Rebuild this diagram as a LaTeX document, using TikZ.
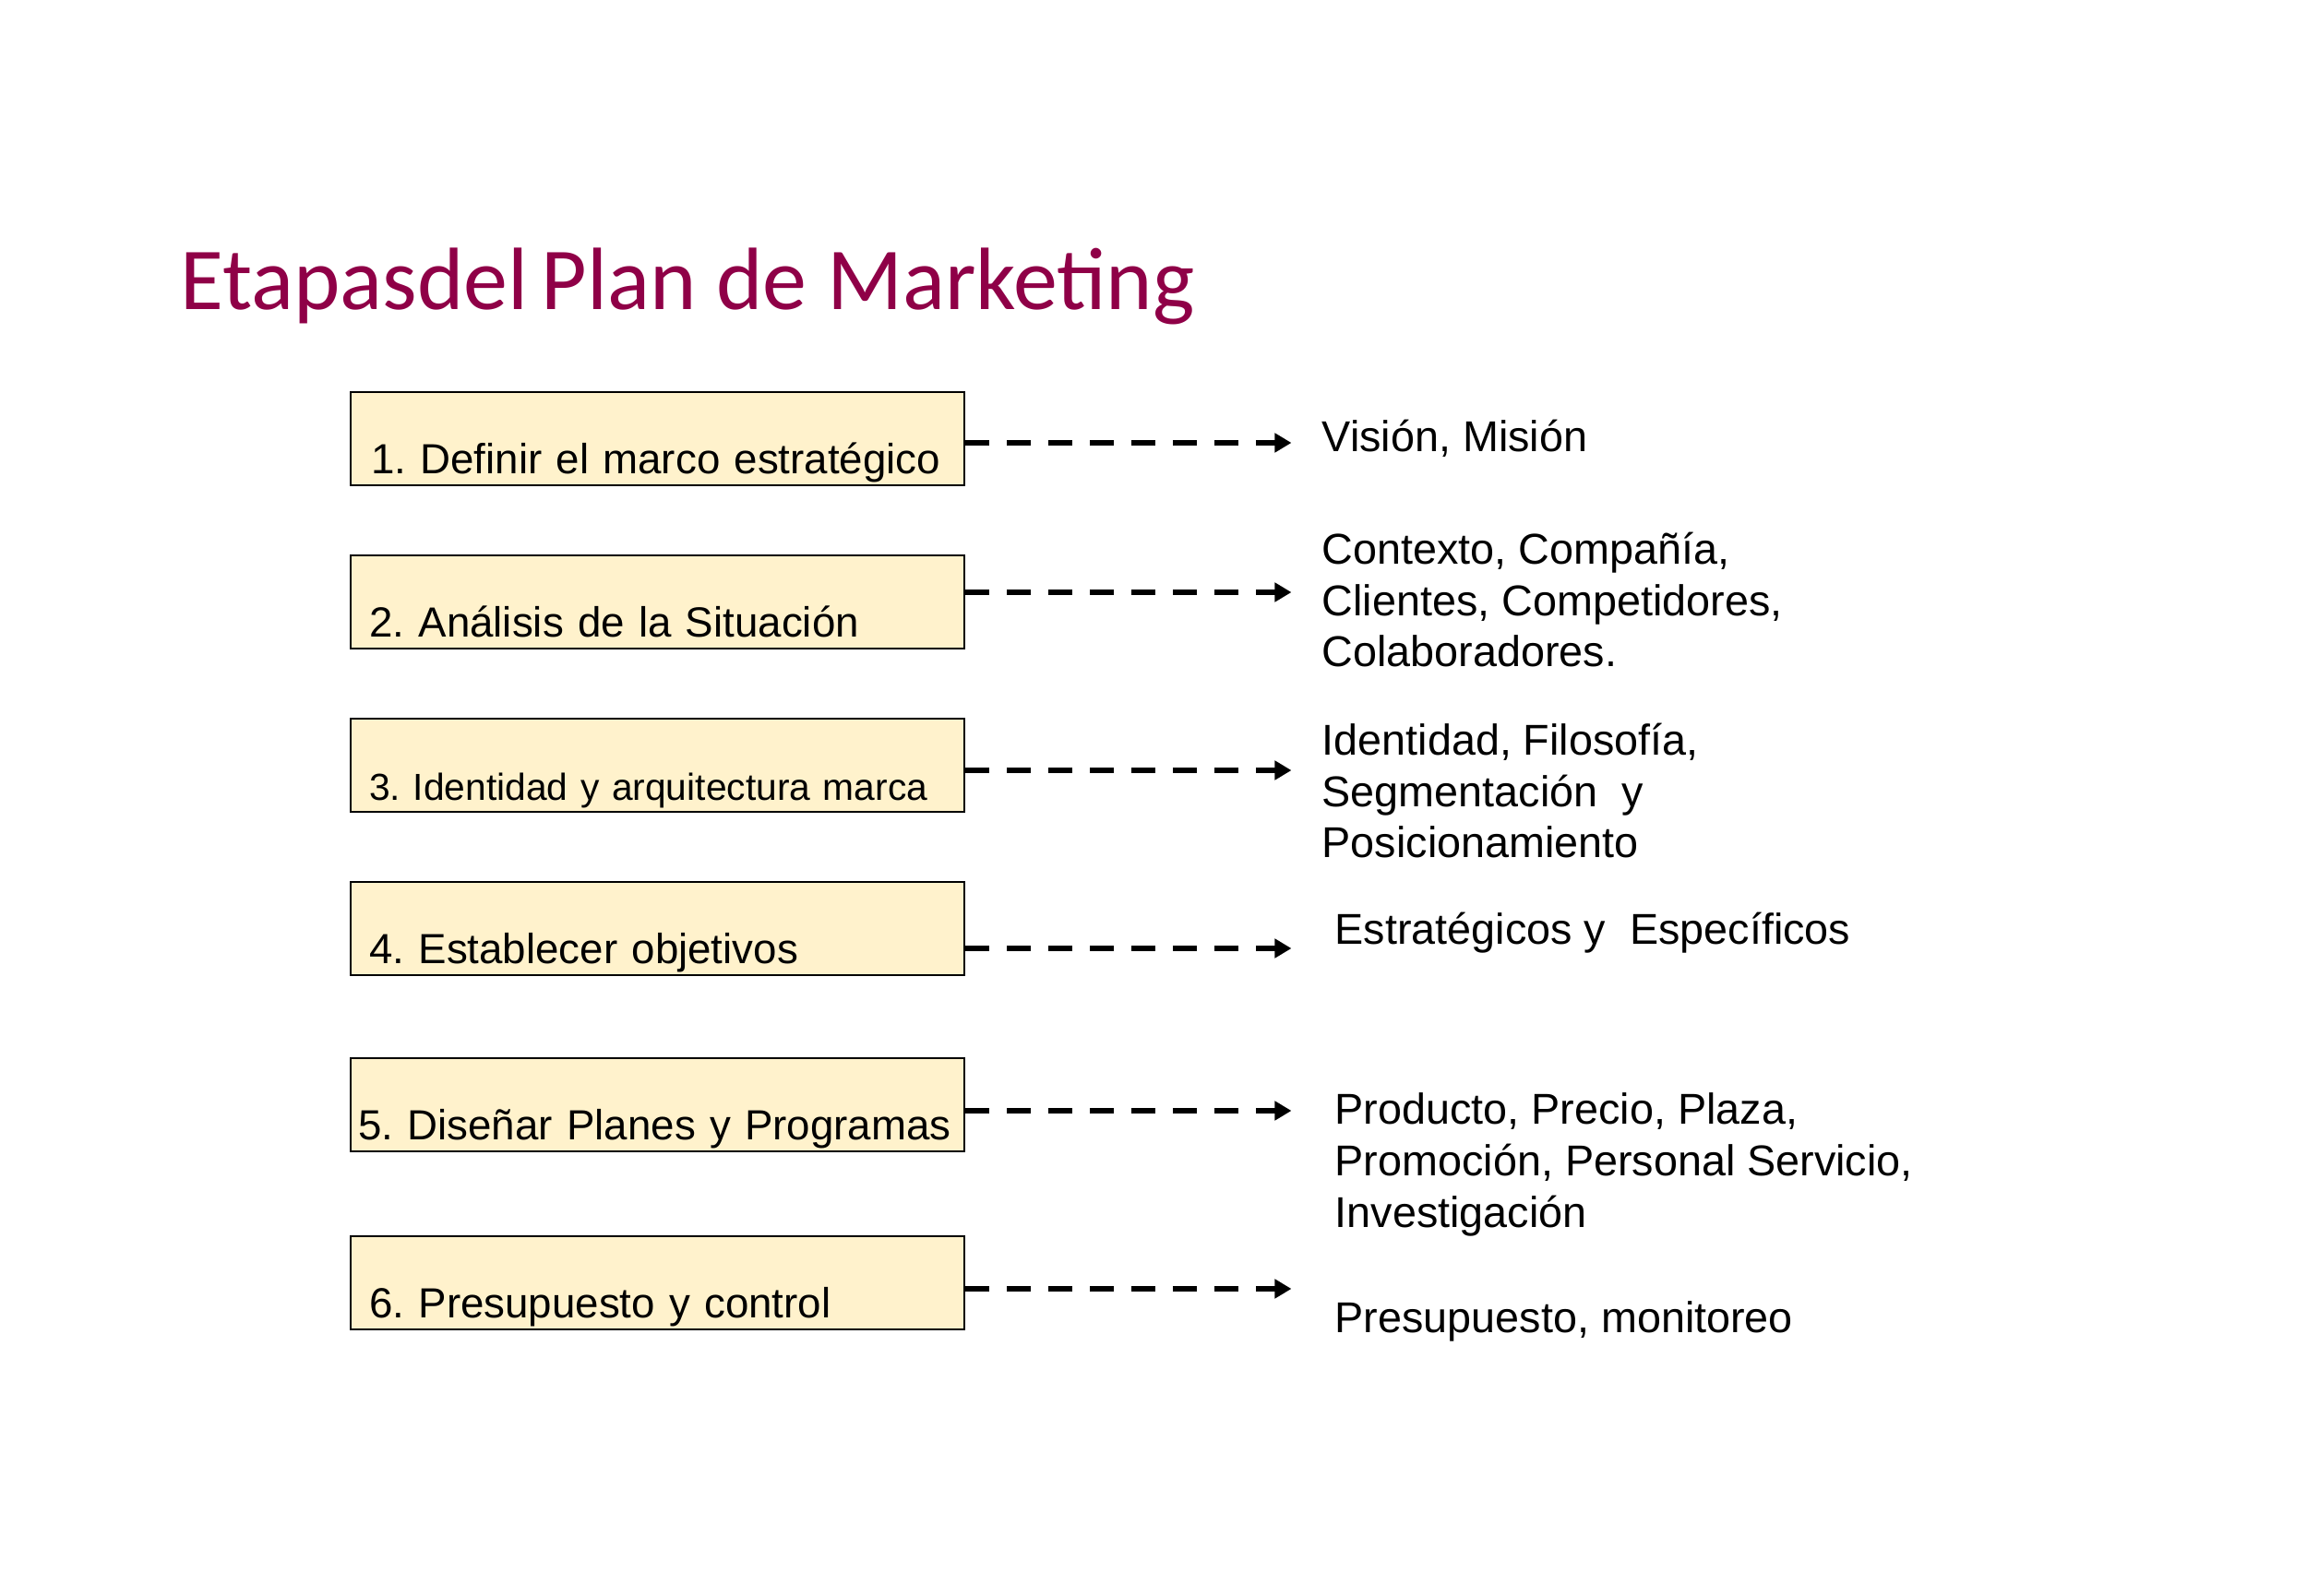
\documentclass[tikz,border=0pt]{standalone}
\usepackage{fontspec}
\setmainfont{Liberation Sans}
\newfontfamily\titulo{Carlito}
\usetikzlibrary{arrows.meta}
\definecolor{vino}{RGB}{143,0,71}
\definecolor{crema}{RGB}{255,242,204}
\frenchspacing
\begin{document}
\begin{tikzpicture}[
  caja/.style={draw,line width=0.7pt,fill=crema,anchor=north west,
    minimum width=6.65cm,minimum height=1.01cm,inner xsep=0.2cm,inner ysep=0pt,
    text width=6.25cm,align=left,text height=0.88cm,text depth=0.13cm,
    font=\fontsize{13}{15.5}\selectfont},
  nota/.style={anchor=base west,inner sep=0pt,align=left,
    font=\fontsize{13.3}{15.8}\selectfont},
  flecha/.style={line width=1.7pt,dash pattern=on 7.2pt off 5.6pt,
    -{Triangle[length=0.18cm,width=0.2cm]}}]
\useasboundingbox (0,0) rectangle (25,-17.3);
\node[anchor=base west,inner sep=0pt,text=vino,font=\titulo\fontsize{27.3}{33}\selectfont]
  (titulo) at (1.95,-3.36) {Etapasdel\hspace{0.15em}Plan de Marketing};
% etapas
\node[caja,inner xsep=0.22cm,text width=6.21cm] (p1) at (3.79,-4.24) {\mbox{1. Definir el marco estratégico}};
\node[caja] (p2) at (3.79,-6.01) {\mbox{2. Análisis de la Situación}};
\node[caja,font=\fontsize{11.6}{14}\selectfont] (p3) at (3.79,-7.78) {\mbox{3. Identidad y arquitectura marca}};
\node[caja] (p4) at (3.79,-9.55) {\mbox{4. Establecer objetivos}};
\node[caja,inner xsep=0.08cm,text width=6.49cm] (p5) at (3.79,-11.46) {\mbox{5. Diseñar Planes y Programas}};
\node[caja] (p6) at (3.79,-13.39) {\mbox{6. Presupuesto y control}};
% contenidos (base = ultima linea)
\node[nota] (c1) at (14.32,-4.90) {Visión, Misión};
\node[nota] (c2) at (14.32,-7.23) {Contexto, Compañía,\\Clientes, Competidores,\\Colaboradores.};
\node[nota] (c3) at (14.32,-9.30) {Identidad, Filosofía,\\Segmentación\ \ y\\Posicionamiento};
\node[nota] (c4) at (14.46,-10.23) {Estratégicos y\ \ Específicos};
\node[nota] (c5) at (14.46,-13.30) {Producto, Precio, Plaza,\\Promoción, Personal Servicio,\\Investigación};
\node[nota] (c6) at (14.46,-14.44) {Presupuesto, monitoreo};
% flechas
\draw[flecha] ([yshift=-0.56cm]p1.north east) -- ++(3.53,0);
\draw[flecha] ([yshift=-0.41cm]p2.north east) -- ++(3.53,0);
\draw[flecha] ([yshift=-0.57cm]p3.north east) -- ++(3.53,0);
\draw[flecha] ([yshift=-0.73cm]p4.north east) -- ++(3.53,0);
\draw[flecha] ([yshift=-0.58cm]p5.north east) -- ++(3.53,0);
\draw[flecha] ([yshift=-0.58cm]p6.north east) -- ++(3.53,0);
\end{tikzpicture}
\end{document}
